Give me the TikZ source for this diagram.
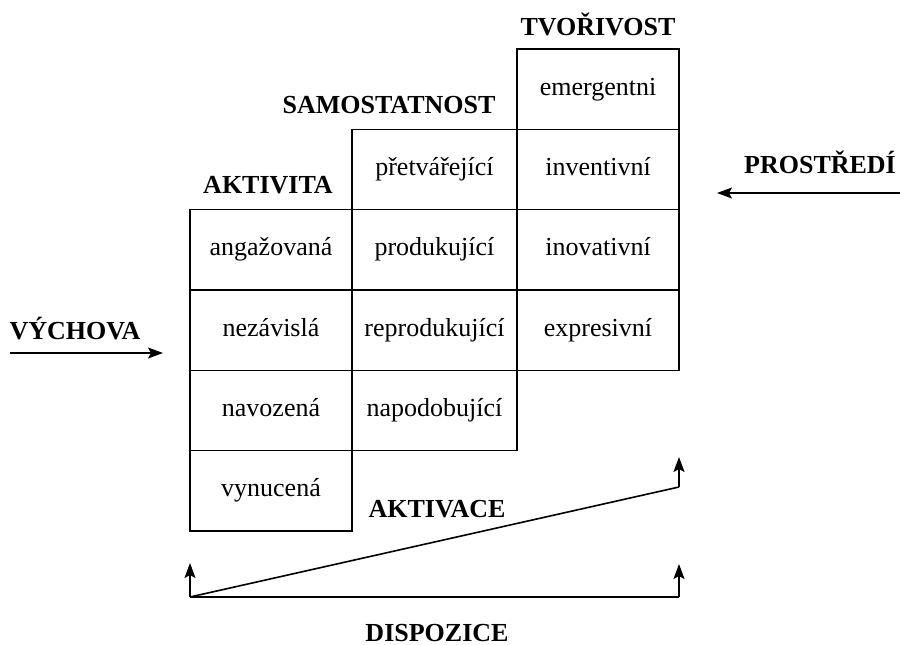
\documentclass[tikz,border=0pt]{standalone}
\usepackage{fontspec}
\setmainfont{Liberation Serif}
\usetikzlibrary{positioning,arrows.meta}

\tikzset{
  cell/.style={draw, line width=1.5pt, minimum width=162pt, minimum height=80.3pt,
    inner sep=0pt, outer sep=0pt, text height=18pt, text depth=6pt,
    font=\fontsize{26}{30}\selectfont},
  widecell/.style={cell, minimum width=165pt},
  heading/.style={font=\fontsize{26}{30}\selectfont\bfseries, inner sep=0pt, anchor=base},
  flow/.style={line width=1.6pt, -{Stealth[length=15pt,width=11pt,inset=3pt]}},
  plainline/.style={line width=1.6pt}
}

\begin{document}
\begin{tikzpicture}[x=1pt,y=-1pt]
\useasboundingbox (0,0) rectangle (900,645);

% tvorivost
\node[cell] (t1) at (598,89.2) {emergentni};
\node[cell,below=0pt of t1] (t2) {inventivní};
\node[cell,below=0pt of t2] (t3) {inovativní};
\node[cell,below=0pt of t3] (t4) {expresivní};
% samostatnost
\node[widecell,left=0pt of t2] (s1) {přetvářející};
\node[widecell,below=0pt of s1] (s2) {produkující};
\node[widecell,below=0pt of s2] (s3) {reprodukující};
\node[widecell,below=0pt of s3] (s4) {napodobující};
% aktivita
\node[cell,left=0pt of s2] (a1) {angažovaná};
\node[cell,below=0pt of a1] (a2) {nezávislá};
\node[cell,below=0pt of a2] (a3) {navozená};
\node[cell,below=0pt of a3] (a4) {vynucená};

\node[heading] (tvo) at (598,35) {TVOŘIVOST};
\node[heading] (sam) at (389,113) {SAMOSTATNOST};
\node[heading] (akt) at (268,193) {AKTIVITA};
\node[heading] (pro) at (820,173) {PROSTŘEDÍ};
\node[heading] (vych) at (75,339) {VÝCHOVA};
\node[heading] (aktiv) at (437,517) {AKTIVACE};
\node[heading] (disp) at (437,641) {DISPOZICE};

% vnejsi vlivy
\coordinate (pstart) at (900,193);
\coordinate (pend) at (717,193);
\coordinate (vstart) at (10,353);
\coordinate (vend) at (163,353);
\draw[flow] (pstart)--(pend);
\draw[flow] (vstart)--(vend);

% dispozice a aktivace
\coordinate (dl) at (190,597);
\coordinate (dr) at (679,597);
\coordinate (dlup) at (190,563);
\coordinate (drup) at (679,564);
\coordinate (kr) at (679,487);
\coordinate (krup) at (679,457);
\draw[plainline] (dl)--(dr);
\draw[flow] (dl)--(dlup);
\draw[flow] (dr)--(drup);
\draw[plainline] (dl)--(kr);
\draw[flow] (kr)--(krup);

\end{tikzpicture}
\end{document}
